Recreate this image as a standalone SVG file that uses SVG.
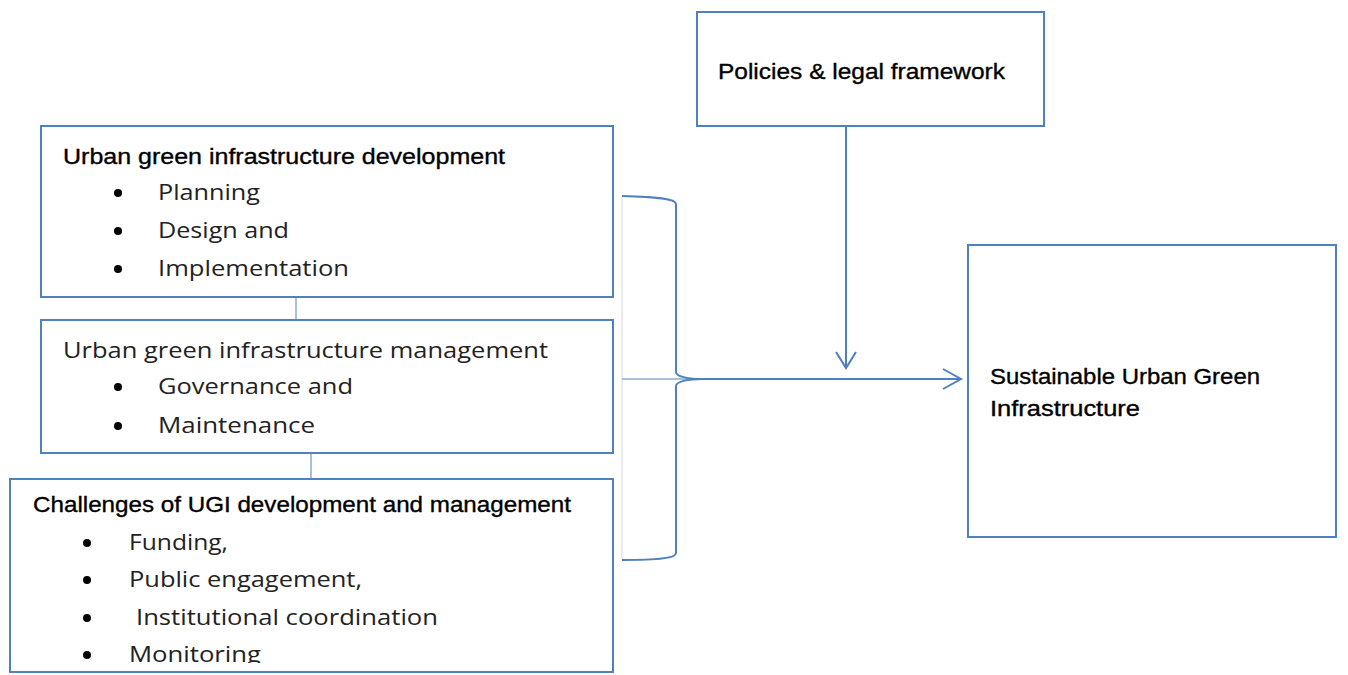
<svg xmlns="http://www.w3.org/2000/svg" width="1348" height="675" viewBox="0 0 1348 675">
<defs>
<style>
.box{fill:#fff;stroke:#4f81bd;stroke-width:2}
.ln{fill:none;stroke:#4f81bd;stroke-width:2}
.thin{fill:none;stroke:#4f81bd;stroke-width:1}
.t{font-family:"Liberation Sans",Arial,sans-serif;font-size:22px;fill:#000;stroke:#000;stroke-width:0.35}
.b{font-family:"Open Sans","Liberation Sans",Arial,sans-serif;font-size:21px;fill:#222}
.dot{fill:#000}
</style>
<clipPath id="c3"><rect x="10" y="479" width="603" height="184"/></clipPath>
</defs>
<g id="connectors">
<line class="thin" x1="296" y1="297" x2="296" y2="320"/>
<line class="thin" x1="311" y1="453" x2="311" y2="479"/>
<line x1="622" y1="196" x2="622" y2="560" stroke="#d8d8d8" stroke-width="1"/>
<path class="ln" d="M622,196 C660,197 676,199 676,204 L676,372 C676,377 690,379 702,379 M702,379 C690,379 676,381 676,386 L676,553 C676,558 660,560 622,560"/>
<line class="thin" x1="622" y1="379" x2="710" y2="379"/>
<line class="ln" x1="700" y1="379" x2="961" y2="379"/>
<polyline class="ln" points="943,369 961,379 943,389"/>
<line class="ln" x1="846" y1="126" x2="846" y2="367"/>
<polyline class="ln" points="836,352 846,368 856,352"/>
</g>
<g id="node-policies">
<rect class="box" x="697" y="12" width="347" height="114"/>
<text class="t" x="718" y="79" textLength="287" lengthAdjust="spacingAndGlyphs">Policies &amp; legal framework</text>
</g>
<g id="node-development">
<rect class="box" x="41" y="126" width="572" height="171"/>
<text class="t" x="63" y="164" textLength="442" lengthAdjust="spacingAndGlyphs">Urban green infrastructure development</text>
<circle class="dot" cx="118" cy="193" r="4"/>
<text class="b" x="158" y="200" textLength="102" lengthAdjust="spacingAndGlyphs">Planning</text>
<circle class="dot" cx="118" cy="231" r="4"/>
<text class="b" x="158" y="238" textLength="131" lengthAdjust="spacingAndGlyphs">Design and</text>
<circle class="dot" cx="118" cy="269" r="4"/>
<text class="b" x="158" y="276" textLength="191" lengthAdjust="spacingAndGlyphs">Implementation</text>
</g>
<g id="node-management">
<rect class="box" x="41" y="320" width="572" height="133"/>
<text class="b" x="63" y="358" textLength="485" lengthAdjust="spacingAndGlyphs">Urban green infrastructure management</text>
<circle class="dot" cx="118" cy="387" r="4"/>
<text class="b" x="158" y="394" textLength="195" lengthAdjust="spacingAndGlyphs">Governance and</text>
<circle class="dot" cx="118" cy="426" r="4"/>
<text class="b" x="158" y="433" textLength="157" lengthAdjust="spacingAndGlyphs">Maintenance</text>
</g>
<g id="node-challenges">
<rect class="box" x="10" y="479" width="603" height="193"/>
<text class="t" x="33" y="512" textLength="538" lengthAdjust="spacingAndGlyphs">Challenges of UGI development and management</text>
<g clip-path="url(#c3)">
<circle class="dot" cx="87" cy="543" r="4"/>
<text class="b" x="129" y="550" textLength="99" lengthAdjust="spacingAndGlyphs">Funding,</text>
<circle class="dot" cx="87" cy="580" r="4"/>
<text class="b" x="129" y="587" textLength="233" lengthAdjust="spacingAndGlyphs">Public engagement,</text>
<circle class="dot" cx="87" cy="618" r="4"/>
<text class="b" x="136" y="625" textLength="302" lengthAdjust="spacingAndGlyphs">Institutional coordination</text>
<circle class="dot" cx="87" cy="655" r="4"/>
<text class="b" x="129" y="662" textLength="132" lengthAdjust="spacingAndGlyphs">Monitoring</text>
</g>
</g>
<g id="node-sustainable">
<rect class="box" x="968" y="245" width="368" height="292"/>
<text class="t" x="990" y="384" textLength="270" lengthAdjust="spacingAndGlyphs">Sustainable Urban Green</text>
<text class="t" x="990" y="416" textLength="150" lengthAdjust="spacingAndGlyphs">Infrastructure</text>
</g>
</svg>
